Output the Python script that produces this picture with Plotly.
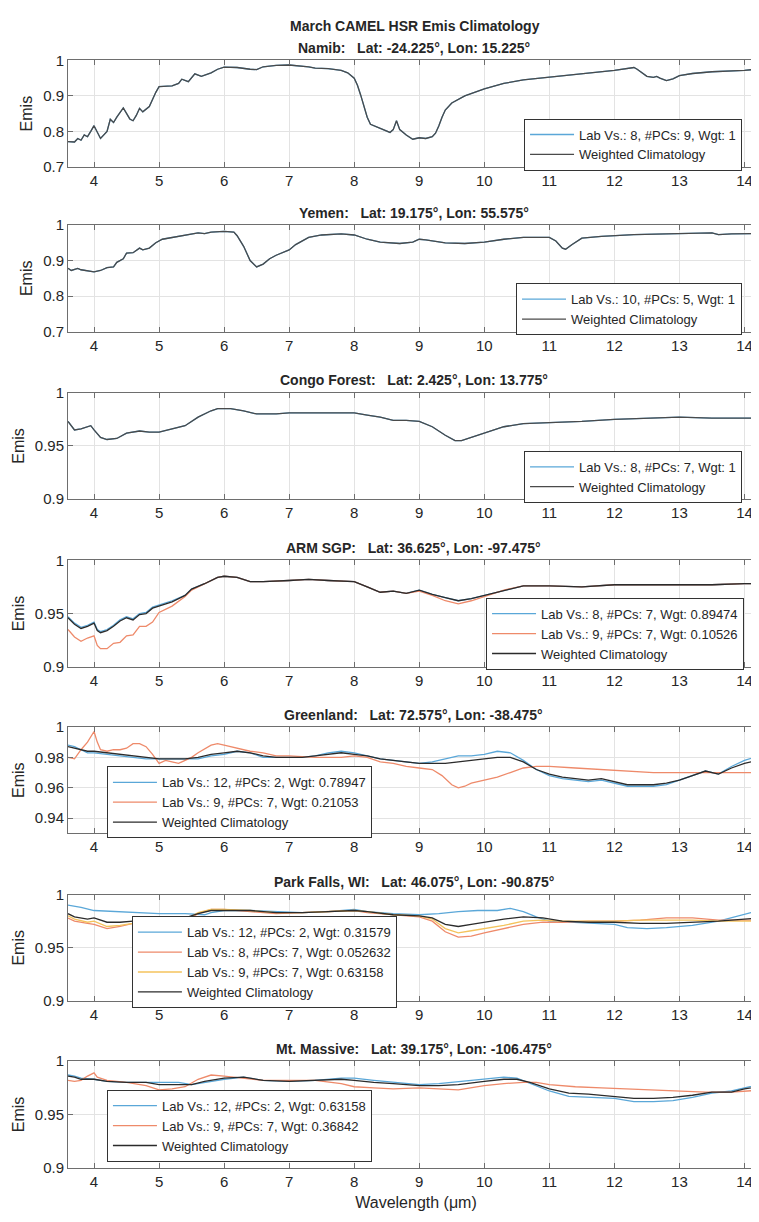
import plotly.graph_objects as go
from plotly.subplots import make_subplots

# ---------------- data ----------------
namib_wl = [3.6, 3.7, 3.75, 3.8, 3.85, 3.9, 3.95, 4.0, 4.1, 4.2, 4.25, 4.3, 4.35, 4.4, 4.45, 4.55, 4.6, 4.65,
            4.7, 4.75, 4.85, 4.95, 5.0, 5.2, 5.3, 5.35, 5.45, 5.55, 5.65, 5.8, 5.9, 6.0, 6.2, 6.4, 6.5, 6.6,
            6.8, 7.0, 7.2, 7.3, 7.4, 7.6, 7.8, 7.9, 8.0, 8.05, 8.1, 8.15, 8.2, 8.25, 8.35, 8.45, 8.55, 8.6,
            8.65, 8.7, 8.8, 8.9, 9.0, 9.1, 9.2, 9.25, 9.3, 9.35, 9.4, 9.5, 9.7, 10.0, 10.3, 10.6, 11.0, 11.3,
            11.6, 12.0, 12.3, 12.35, 12.5, 12.6, 12.65, 12.7, 12.8, 12.9, 13.0, 13.2, 13.5, 14.0, 14.3]
namib_clim = [0.771, 0.770, 0.780, 0.775, 0.790, 0.785, 0.800, 0.816, 0.780, 0.800, 0.834, 0.825, 0.840, 0.855,
              0.866, 0.835, 0.830, 0.845, 0.865, 0.855, 0.870, 0.910, 0.926, 0.928, 0.935, 0.947, 0.940, 0.962,
              0.955, 0.965, 0.975, 0.981, 0.980, 0.975, 0.974, 0.982, 0.986, 0.987, 0.985, 0.982, 0.978, 0.977,
              0.972, 0.965, 0.950, 0.930, 0.902, 0.870, 0.840, 0.820, 0.812, 0.805, 0.797, 0.805, 0.830, 0.805,
              0.790, 0.778, 0.782, 0.780, 0.785, 0.795, 0.815, 0.840, 0.860, 0.880, 0.900, 0.920, 0.935, 0.945,
              0.953, 0.958, 0.963, 0.972, 0.980, 0.975, 0.955, 0.952, 0.955, 0.950, 0.943, 0.948, 0.957, 0.963,
              0.968, 0.972, 0.977]

yemen_wl = [3.6, 3.65, 3.75, 3.8, 4.0, 4.1, 4.2, 4.3, 4.35, 4.45, 4.5, 4.6, 4.7, 4.75, 4.85, 4.95, 5.05, 5.3,
            5.5, 5.6, 5.7, 5.8, 6.0, 6.15, 6.2, 6.3, 6.4, 6.5, 6.6, 6.7, 6.8, 7.0, 7.1, 7.3, 7.5, 7.8, 8.0, 8.2,
            8.4, 8.7, 8.9, 9.0, 9.1, 9.4, 9.7, 10.0, 10.3, 10.6, 11.0, 11.1, 11.2, 11.25, 11.35, 11.5, 11.8,
            12.3, 12.8, 13.3, 13.5, 13.6, 13.8, 14.3]
yemen_clim = [0.878, 0.872, 0.878, 0.874, 0.868, 0.872, 0.880, 0.882, 0.895, 0.905, 0.921, 0.922, 0.935, 0.930,
              0.935, 0.950, 0.960, 0.968, 0.975, 0.978, 0.976, 0.980, 0.982, 0.980, 0.970, 0.940, 0.900, 0.882,
              0.890, 0.905, 0.915, 0.930, 0.945, 0.965, 0.972, 0.975, 0.972, 0.960, 0.952, 0.948, 0.952, 0.960,
              0.958, 0.950, 0.948, 0.952, 0.960, 0.965, 0.965, 0.955, 0.935, 0.932, 0.945, 0.963, 0.968, 0.973,
              0.975, 0.977, 0.978, 0.973, 0.975, 0.976]

congo_wl = [3.6, 3.7, 3.8, 3.95, 4.0, 4.1, 4.2, 4.35, 4.5, 4.7, 4.85, 5.0, 5.2, 5.4, 5.6, 5.8, 5.9, 6.1, 6.3,
            6.5, 6.8, 7.0, 7.3, 7.6, 8.0, 8.2, 8.4, 8.6, 8.8, 9.0, 9.2, 9.4, 9.55, 9.65, 9.8, 10.0, 10.3, 10.6,
            11.0, 11.5, 12.0, 12.5, 13.0, 13.5, 14.0, 14.3]
congo_clim = [0.973, 0.965, 0.966, 0.969, 0.965, 0.958, 0.956, 0.957, 0.962, 0.964, 0.963, 0.963, 0.966, 0.969,
              0.977, 0.983, 0.985, 0.985, 0.983, 0.980, 0.980, 0.981, 0.981, 0.981, 0.981, 0.979, 0.977, 0.974,
              0.974, 0.973, 0.968, 0.960, 0.955, 0.955, 0.958, 0.962, 0.968, 0.971, 0.972, 0.973, 0.975, 0.976,
              0.977, 0.976, 0.976, 0.976]

arm_wl = [3.6, 3.7, 3.8, 3.9, 4.0, 4.05, 4.1, 4.2, 4.3, 4.4, 4.5, 4.6, 4.7, 4.8, 4.9, 5.0, 5.2, 5.4, 5.5, 5.7,
          5.9, 6.0, 6.2, 6.4, 6.6, 7.0, 7.3, 7.6, 8.0, 8.2, 8.4, 8.6, 8.8, 9.0, 9.2, 9.4, 9.6, 9.8, 10.0, 10.3,
          10.6, 11.0, 11.5, 12.0, 12.5, 13.0, 13.5, 14.0, 14.3]
arm_lab8 = [0.947, 0.941, 0.937, 0.939, 0.942, 0.935, 0.933, 0.935, 0.939, 0.944, 0.947, 0.945, 0.950, 0.951,
            0.956, 0.958, 0.962, 0.967, 0.973, 0.978, 0.984, 0.985, 0.984, 0.980, 0.980, 0.981, 0.982, 0.981,
            0.980, 0.975, 0.970, 0.971, 0.969, 0.972, 0.968, 0.965, 0.962, 0.964, 0.967, 0.972, 0.976, 0.976,
            0.975, 0.977, 0.977, 0.977, 0.977, 0.978, 0.978]
arm_lab9 = [0.935, 0.928, 0.924, 0.927, 0.929, 0.920, 0.917, 0.917, 0.922, 0.923, 0.929, 0.930, 0.938, 0.938,
            0.942, 0.951, 0.957, 0.966, 0.972, 0.978, 0.984, 0.985, 0.984, 0.980, 0.980, 0.981, 0.982, 0.981,
            0.980, 0.975, 0.970, 0.971, 0.969, 0.971, 0.967, 0.962, 0.959, 0.962, 0.966, 0.972, 0.976, 0.976,
            0.975, 0.977, 0.977, 0.977, 0.977, 0.978, 0.978]
arm_clim = [0.946, 0.940, 0.936, 0.938, 0.941, 0.934, 0.932, 0.934, 0.938, 0.943, 0.946, 0.944, 0.949, 0.950,
            0.955, 0.957, 0.961, 0.967, 0.973, 0.978, 0.984, 0.985, 0.984, 0.980, 0.980, 0.981, 0.982, 0.981,
            0.980, 0.975, 0.970, 0.971, 0.969, 0.972, 0.968, 0.965, 0.962, 0.964, 0.967, 0.972, 0.976, 0.976,
            0.975, 0.977, 0.977, 0.977, 0.977, 0.978, 0.978]

green_wl = [3.6, 3.7, 3.8, 3.9, 4.0, 4.2, 4.4, 4.6, 4.8, 5.0, 5.2, 5.4, 5.6, 5.8, 6.0, 6.2, 6.4, 6.6, 6.8, 7.0,
            7.2, 7.4, 7.6, 7.8, 8.0, 8.2, 8.4, 8.6, 8.8, 9.0, 9.2, 9.4, 9.6, 9.8, 10.0, 10.2, 10.4, 10.6, 10.8,
            11.0, 11.2, 11.4, 11.6, 11.8, 12.0, 12.2, 12.4, 12.6, 12.8, 13.0, 13.2, 13.4, 13.6, 13.8, 14.0, 14.3]
green_lab12 = [0.988, 0.987, 0.985, 0.983, 0.983, 0.982, 0.981, 0.980, 0.979, 0.979, 0.979, 0.979, 0.979, 0.981,
               0.982, 0.984, 0.983, 0.980, 0.980, 0.980, 0.980, 0.981, 0.983, 0.984, 0.983, 0.981, 0.979, 0.978,
               0.977, 0.976, 0.977, 0.979, 0.981, 0.981, 0.982, 0.984, 0.983, 0.978, 0.972, 0.968, 0.966, 0.965,
               0.964, 0.965, 0.963, 0.961, 0.961, 0.961, 0.962, 0.965, 0.968, 0.971, 0.969, 0.974, 0.978, 0.982]
green_clim = [0.987, 0.986, 0.985, 0.984, 0.984, 0.983, 0.982, 0.981, 0.980, 0.979, 0.979, 0.979, 0.980, 0.982,
              0.983, 0.984, 0.983, 0.981, 0.980, 0.980, 0.980, 0.981, 0.982, 0.983, 0.982, 0.981, 0.979, 0.978,
              0.977, 0.976, 0.976, 0.976, 0.977, 0.978, 0.979, 0.980, 0.980, 0.977, 0.972, 0.969, 0.967, 0.966,
              0.965, 0.966, 0.964, 0.962, 0.962, 0.962, 0.963, 0.965, 0.968, 0.971, 0.969, 0.973, 0.976, 0.979]
green_lab9_wl = [3.6, 3.7, 3.8, 3.9, 4.0, 4.05, 4.1, 4.2, 4.3, 4.4, 4.5, 4.6, 4.7, 4.8, 4.9, 5.0, 5.1, 5.3, 5.5,
                 5.6, 5.8, 5.9, 6.0, 6.2, 6.4, 6.6, 6.8, 7.0, 7.4, 7.8, 8.0, 8.2, 8.4, 8.6, 8.8, 9.0, 9.2, 9.35,
                 9.5, 9.6, 9.7, 9.8, 10.0, 10.2, 10.4, 10.6, 10.8, 11.0, 11.4, 11.8, 12.2, 12.6, 13.0, 13.4,
                 14.0, 14.3]
green_lab9 = [0.980, 0.979, 0.985, 0.990, 0.997, 0.990, 0.985, 0.984, 0.985, 0.985, 0.986, 0.989, 0.989, 0.987,
              0.982, 0.976, 0.978, 0.976, 0.980, 0.983, 0.988, 0.989, 0.988, 0.986, 0.984, 0.983, 0.981, 0.981,
              0.980, 0.980, 0.981, 0.980, 0.977, 0.976, 0.974, 0.973, 0.972, 0.968, 0.962, 0.960, 0.961, 0.963,
              0.965, 0.967, 0.970, 0.973, 0.974, 0.974, 0.973, 0.972, 0.971, 0.970, 0.970, 0.970, 0.970, 0.970]

park_wl = [3.6, 3.7, 3.9, 4.0, 4.2, 4.4, 4.6, 4.8, 5.0, 5.2, 5.4, 5.6, 5.8, 6.0, 6.4, 6.8, 7.2, 7.6, 8.0, 8.2,
           8.6, 9.0, 9.2, 9.4, 9.6, 9.8, 10.0, 10.3, 10.6, 10.9, 11.2, 11.6, 12.0, 12.4, 12.8, 13.2, 13.6,
           14.0, 14.3]
park_lab8 = [0.978, 0.975, 0.973, 0.972, 0.968, 0.970, 0.973, 0.975, 0.974, 0.973, 0.975, 0.982, 0.986, 0.986,
             0.984, 0.982, 0.983, 0.984, 0.985, 0.983, 0.981, 0.979, 0.975, 0.965, 0.960, 0.961, 0.964, 0.968,
             0.972, 0.974, 0.974, 0.975, 0.975, 0.976, 0.978, 0.978, 0.976, 0.976, 0.976]
park_lab9 = [0.980, 0.977, 0.974, 0.975, 0.970, 0.971, 0.973, 0.976, 0.975, 0.975, 0.976, 0.983, 0.986, 0.986,
             0.985, 0.983, 0.983, 0.984, 0.985, 0.984, 0.981, 0.980, 0.977, 0.968, 0.964, 0.966, 0.968, 0.971,
             0.975, 0.976, 0.975, 0.975, 0.975, 0.976, 0.976, 0.976, 0.975, 0.975, 0.975]
park_clim = [0.982, 0.979, 0.977, 0.978, 0.974, 0.974, 0.975, 0.976, 0.977, 0.977, 0.978, 0.982, 0.985, 0.985,
             0.985, 0.983, 0.983, 0.984, 0.985, 0.984, 0.981, 0.980, 0.978, 0.972, 0.970, 0.972, 0.974, 0.977,
             0.979, 0.978, 0.975, 0.974, 0.974, 0.973, 0.973, 0.974, 0.975, 0.977, 0.978]
park_lab12_wl = [3.6, 3.8, 4.0, 4.3, 4.6, 5.0, 5.4, 5.7, 5.8, 6.0, 6.4, 6.8, 7.2, 7.6, 8.0, 8.2, 8.6, 9.0, 9.3,
                 9.6, 9.9, 10.2, 10.4, 10.6, 10.8, 11.0, 11.4, 11.8, 12.0, 12.2, 12.5, 12.8, 13.2, 13.6, 13.9,
                 14.1, 14.3]
park_lab12 = [0.990, 0.988, 0.985, 0.984, 0.983, 0.982, 0.982, 0.981, 0.983, 0.985, 0.985, 0.984, 0.983, 0.984,
              0.986, 0.984, 0.982, 0.981, 0.982, 0.984, 0.985, 0.985, 0.987, 0.984, 0.979, 0.975, 0.974, 0.973,
              0.972, 0.969, 0.968, 0.969, 0.971, 0.975, 0.980, 0.983, 0.985]

mass_wl = [3.6, 3.7, 3.8, 4.0, 4.2, 4.5, 4.8, 5.0, 5.3, 5.5, 5.7, 6.0, 6.3, 6.6, 7.0, 7.4, 7.8, 8.0, 8.3, 8.6,
           9.0, 9.3, 9.6, 10.0, 10.3, 10.5, 10.7, 11.0, 11.3, 11.6, 12.0, 12.3, 12.6, 12.9, 13.2, 13.5, 13.8,
           14.0, 14.3]
mass_lab12 = [0.987, 0.986, 0.984, 0.983, 0.981, 0.980, 0.980, 0.980, 0.980, 0.978, 0.980, 0.983, 0.985, 0.982,
              0.981, 0.982, 0.984, 0.984, 0.982, 0.980, 0.978, 0.979, 0.981, 0.983, 0.985, 0.984, 0.979, 0.972,
              0.967, 0.966, 0.965, 0.962, 0.962, 0.963, 0.966, 0.970, 0.972, 0.975, 0.979]
mass_clim = [0.986, 0.985, 0.983, 0.983, 0.981, 0.980, 0.980, 0.978, 0.978, 0.978, 0.981, 0.984, 0.985, 0.982,
             0.981, 0.982, 0.983, 0.982, 0.980, 0.979, 0.977, 0.977, 0.978, 0.981, 0.983, 0.983, 0.980, 0.974,
             0.970, 0.969, 0.967, 0.965, 0.965, 0.966, 0.968, 0.971, 0.971, 0.974, 0.977]
mass_lab9_wl = [3.6, 3.7, 3.8, 3.9, 4.0, 4.05, 4.2, 4.5, 4.8, 5.0, 5.2, 5.4, 5.6, 5.8, 6.0, 6.3, 6.6, 7.0, 7.4,
                7.8, 8.0, 8.3, 8.6, 9.0, 9.3, 9.6, 10.0, 10.3, 10.6, 10.8, 11.0, 11.4, 11.8, 12.2, 12.6, 13.0,
                13.4, 13.8, 14.0, 14.3]
mass_lab9 = [0.982, 0.981, 0.982, 0.986, 0.989, 0.985, 0.982, 0.980, 0.977, 0.973, 0.974, 0.976, 0.983, 0.987,
             0.986, 0.984, 0.982, 0.982, 0.982, 0.979, 0.976, 0.975, 0.974, 0.975, 0.974, 0.973, 0.977, 0.979,
             0.980, 0.980, 0.978, 0.976, 0.975, 0.974, 0.973, 0.972, 0.971, 0.971, 0.972, 0.973]

titles = ["Namib:   Lat: -24.225°, Lon: 15.225°",
          "Yemen:   Lat: 19.175°, Lon: 55.575°",
          "Congo Forest:   Lat: 2.425°, Lon: 13.775°",
          "ARM SGP:   Lat: 36.625°, Lon: -97.475°",
          "Greenland:   Lat: 72.575°, Lon: -38.475°",
          "Park Falls, WI:   Lat: 46.075°, Lon: -90.875°",
          "Mt. Massive:   Lat: 39.175°, Lon: -106.475°"]
main_title = "March CAMEL HSR Emis Climatology"
x_ticks = [4, 5, 6, 7, 8, 9, 10, 11, 12, 13, 14]
y_ranges = [[0.7, 1.0], [0.7, 1.0], [0.9, 1.0], [0.9, 1.0], [0.93, 1.0], [0.9, 1.0], [0.9, 1.0]]
y_ticks = [[0.7, 0.8, 0.9, 1.0], [0.7, 0.8, 0.9, 1.0], [0.9, 0.95, 1.0], [0.9, 0.95, 1.0],
           [0.94, 0.96, 0.98, 1.0], [0.9, 0.95, 1.0], [0.9, 0.95, 1.0]]
y_ticktext = [["0.7", "0.8", "0.9", "1"], ["0.7", "0.8", "0.9", "1"], ["0.9", "0.95", "1"], ["0.9", "0.95", "1"],
              ["0.94", "0.96", "0.98", "1"], ["0.9", "0.95", "1"], ["0.9", "0.95", "1"]]

# ---------------- style ----------------
OFF = 8                      # page body margin of the written html
W, H = 757, 1214             # figure size (page 8..765 x 8..1222)
LEFT = 60                    # plot area starts at page x = 68
FONT = "Liberation Sans, Arial, sans-serif"
BLUE, ORANGE, YELLOW, BLACK = "#5aa7d8", "#ee8a6a", "#f4c35c", "#2b2b2b"
AXC = "#6e6e6e"
TXT = "#262626"
tops = [52, 219, 389, 559, 728, 898, 1067]   # page y of each axes box top
PH = 108
# (page x, anchor, page y of top)
legend_pos = [(743, "right", 111), (743, "right", 278), (743, "right", 448), (745, "right", 597),
              (107, "left", 768), (132, "left", 920), (107, "left", 1096)]

panels = [
    [(namib_wl, namib_clim, "Lab Vs.: 8, #PCs: 9, Wgt: 1", BLUE), (namib_wl, namib_clim, "Weighted Climatology", "#4a4a4a")],
    [(yemen_wl, yemen_clim, "Lab Vs.: 10, #PCs: 5, Wgt: 1", BLUE), (yemen_wl, yemen_clim, "Weighted Climatology", "#4a4a4a")],
    [(congo_wl, congo_clim, "Lab Vs.: 8, #PCs: 7, Wgt: 1", BLUE), (congo_wl, congo_clim, "Weighted Climatology", "#4a4a4a")],
    [(arm_wl, arm_lab8, "Lab Vs.: 8, #PCs: 7, Wgt: 0.89474", BLUE), (arm_wl, arm_lab9, "Lab Vs.: 9, #PCs: 7, Wgt: 0.10526", ORANGE),
     (arm_wl, arm_clim, "Weighted Climatology", BLACK)],
    [(green_wl, green_lab12, "Lab Vs.: 12, #PCs: 2, Wgt: 0.78947", BLUE), (green_lab9_wl, green_lab9, "Lab Vs.: 9, #PCs: 7, Wgt: 0.21053", ORANGE),
     (green_wl, green_clim, "Weighted Climatology", BLACK)],
    [(park_lab12_wl, park_lab12, "Lab Vs.: 12, #PCs: 2, Wgt: 0.31579", BLUE), (park_wl, park_lab8, "Lab Vs.: 8, #PCs: 7, Wgt: 0.052632", ORANGE),
     (park_wl, park_lab9, "Lab Vs.: 9, #PCs: 7, Wgt: 0.63158", YELLOW), (park_wl, park_clim, "Weighted Climatology", BLACK)],
    [(mass_wl, mass_lab12, "Lab Vs.: 12, #PCs: 2, Wgt: 0.63158", BLUE), (mass_lab9_wl, mass_lab9, "Lab Vs.: 9, #PCs: 7, Wgt: 0.36842", ORANGE),
     (mass_wl, mass_clim, "Weighted Climatology", BLACK)],
]


def py(page_y):
    return 1 - (page_y - OFF) / H


def px(page_x):
    return (page_x - OFF - LEFT) / (W - LEFT)


fig = make_subplots(rows=7, cols=1)
layout_upd = {}
annotations = []
for i, series in enumerate(panels):
    r = i + 1
    lg = "legend" if i == 0 else f"legend{r}"
    for (xs, ys, name, col) in series:
        fig.add_trace(go.Scatter(x=xs, y=ys, mode="lines", name=name, legend=lg,
                                 line=dict(color=col, width=1.3), showlegend=True), row=r, col=1)
    top = tops[i]
    sfx = "" if i == 0 else str(r)
    layout_upd[f"yaxis{sfx}"] = dict(domain=[py(top + PH), py(top)], range=y_ranges[i], tickvals=y_ticks[i],
                                     ticktext=y_ticktext[i], showgrid=True, gridcolor="#e3e3e3", gridwidth=1,
                                     zeroline=False, showline=True, linecolor=AXC, linewidth=1, mirror="ticks",
                                     ticks="inside", ticklen=5, tickcolor=AXC,
                                     tickfont=dict(family=FONT, size=15, color=TXT),
                                     title=dict(text="Emis", font=dict(family=FONT, size=16, color=TXT), standoff=6))
    layout_upd[f"xaxis{sfx}"] = dict(range=[3.6, 14.3], tickvals=x_ticks, showgrid=True, gridcolor="#e3e3e3",
                                     zeroline=False, showline=True, linecolor=AXC, linewidth=1, mirror="ticks",
                                     ticks="inside", ticklen=5, tickcolor=AXC,
                                     tickfont=dict(family=FONT, size=15, color=TXT))
    lx, anchor, ly = legend_pos[i]
    layout_upd[lg] = dict(x=px(lx), y=py(ly), xanchor=anchor, yanchor="top",
                          bgcolor="white", bordercolor="#333333", borderwidth=1,
                          font=dict(family=FONT, size=13, color=TXT), tracegroupgap=0, itemwidth=44)
    annotations.append(dict(text=f"<b>{titles[i].replace(' ', chr(160))}</b>", x=px(414), xref="paper",
                            y=py(top - 12.5), yref="paper", xanchor="center", yanchor="middle",
                            showarrow=False, font=dict(family=FONT, size=14, color=TXT)))

annotations.append(dict(text=f"<b>{main_title}</b>", x=px(415), xref="paper", y=py(17), yref="paper",
                        xanchor="center", yanchor="middle", showarrow=False,
                        font=dict(family=FONT, size=14, color=TXT)))
layout_upd["xaxis7"]["title"] = dict(text="Wavelength (μm)", font=dict(family=FONT, size=16, color=TXT), standoff=8)

fig.update_layout(**layout_upd)
fig.update_layout(width=W, height=H, margin=dict(l=LEFT, r=0, t=0, b=0), plot_bgcolor="white",
                  paper_bgcolor="white", annotations=annotations, font=dict(family=FONT, color=TXT))
fig.write_html("out.html")
